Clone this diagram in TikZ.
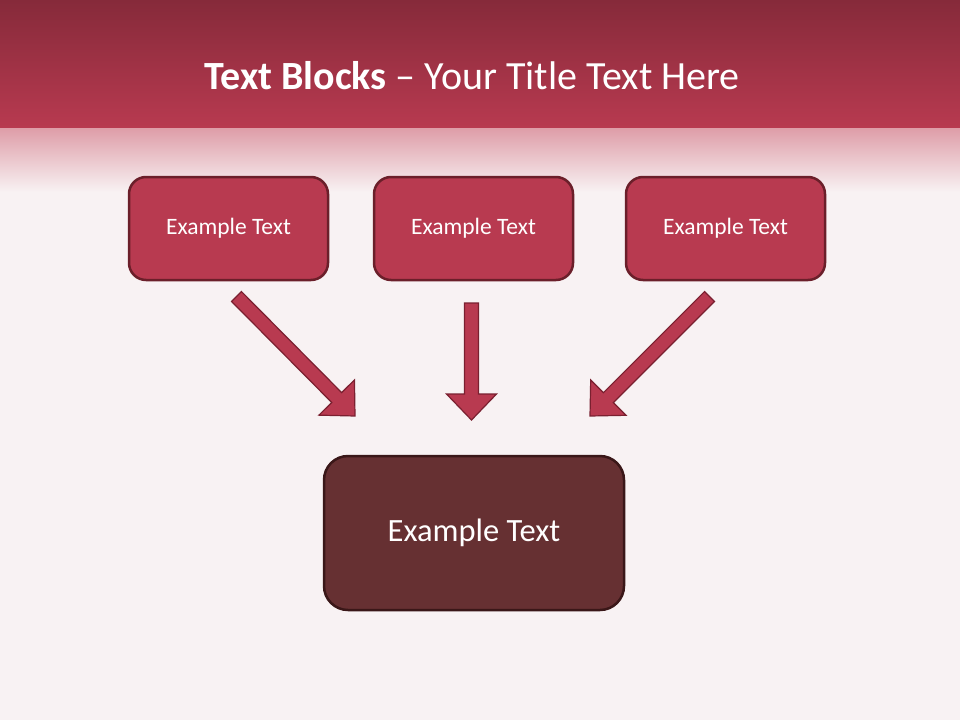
\documentclass[tikz,border=0pt]{standalone}
\usepackage{fontspec}
\setmainfont{Carlito}
\usetikzlibrary{calc}
\definecolor{bg}{HTML}{F8F2F3}
\definecolor{bandtop}{HTML}{862A3A}
\definecolor{bandbot}{HTML}{B83A50}
\definecolor{fadetop}{HTML}{DE9DA8}
\definecolor{boxfill}{HTML}{B83A50}
\definecolor{boxline}{HTML}{6B1F2A}
\definecolor{darkfill}{HTML}{663032}
\definecolor{darkline}{HTML}{3A1718}
\definecolor{arrline}{HTML}{7A2030}
\tikzset{
  smallbox/.style={draw=boxline, fill=boxfill, line width=2.5pt, rounded corners=17pt,
    minimum width=199pt, minimum height=103pt, text=white, font=\fontsize{23.5}{26}\selectfont},
  bigbox/.style={draw=darkline, fill=darkfill, line width=2.5pt, rounded corners=24pt,
    minimum width=300pt, minimum height=154pt, text=white, font=\fontsize{32.5}{36}\selectfont},
  blockarrow/.style={draw=arrline, fill=boxfill, line width=1.2pt, line join=miter}
}
\newcommand{\blockarr}[2]{%
  \coordinate (bC) at ($(#2)!26pt!(#1)$);
  \draw[blockarrow] ($(#1)!7pt!90:(#2)$) -- ($(bC)!7pt!-90:(#1)$) -- ($(bC)!25pt!-90:(#1)$)
    -- (#2) -- ($(bC)!25pt!90:(#1)$) -- ($(bC)!7pt!90:(#1)$) -- ($(#1)!7pt!-90:(#2)$) -- cycle;
}
\begin{document}
\begin{tikzpicture}[x=1pt,y=-1pt]
\useasboundingbox (0,0) rectangle (960,720);
\fill[bg] (0,0) rectangle (960,720);
\shade[top color=bandtop, bottom color=bandbot] (0,0) rectangle (960,128);
\shade[top color=fadetop, bottom color=bg] (0,128) rectangle (960,192);
\node[text=white, font=\fontsize{40}{44}\selectfont] (title) at (472,76)
  {\textbf{Text Blocks} – Your Title Text Here};
\node[smallbox] (b1) at (228.5,228.5) {Example Text};
\node[smallbox] (b2) at (473.5,228.5) {Example Text};
\node[smallbox] (b3) at (725.5,228.5) {Example Text};
\node[bigbox] (b4) at (474,533) {Example Text};
\coordinate (t1) at (236.5,296.5);
\coordinate (h1) at (355,416);
\coordinate (t2) at (471.5,303);
\coordinate (h2) at (471.5,420);
\coordinate (t3) at (709.5,296.5);
\coordinate (h3) at (590,416);
\blockarr{t1}{h1}
\blockarr{t2}{h2}
\blockarr{t3}{h3}
\end{tikzpicture}
\end{document}
